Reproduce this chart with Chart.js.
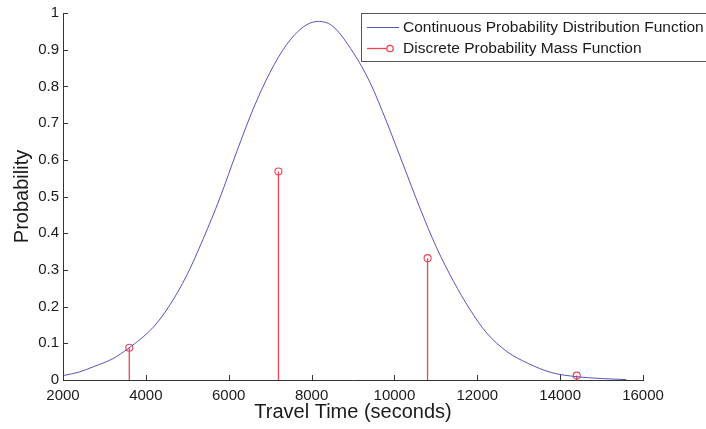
<!DOCTYPE html>
<html>
<head>
<meta charset="utf-8">
<script src="https://cdn.jsdelivr.net/npm/chart.js@4.4.0/dist/chart.umd.min.js"></script>
<style>
  html, body { margin: 0; padding: 0; background: #fff; }
  #wrap { width: 706px; height: 429px; }
</style>
</head>
<body>
<div id="wrap"><canvas id="probChart" width="706" height="429"></canvas></div>
<script>
// ================= Data =================
// continuous curve, travel time in seconds
const pdfX = [2000, 2400, 2731, 3200, 3576, 4180, 4583, 4986, 5386, 5790, 6193, 6593, 6996, 7399,
              7800, 8150, 8500, 9007, 9410, 9813, 10214, 10617, 11020, 11421, 11824, 12227,
              12710, 13230, 13800, 14400, 15000, 15600];
const pdfY = [0.012, 0.022, 0.036, 0.058, 0.086, 0.144, 0.205, 0.285, 0.385, 0.497, 0.622, 0.739, 0.838, 0.914,
              0.962, 0.977, 0.965, 0.892, 0.811, 0.703, 0.586, 0.468, 0.36, 0.27, 0.192, 0.128,
              0.078, 0.045, 0.02, 0.009, 0.004, 0.001];
// discrete mass function (stems)
const pmfX = [3600, 7200, 10800, 14400];
const pmfY = [0.088, 0.568, 0.332, 0.012];

const xTicks = [2000, 4000, 6000, 8000, 10000, 12000, 14000, 16000];
const yTicks = [0, 0.1, 0.2, 0.3, 0.4, 0.5, 0.6, 0.7, 0.8, 0.9, 1];

const BLUE = 'rgba(75,75,190,0.95)';
const RED = '#ee4455';
const FONT = '"Liberation Sans", Arial, Helvetica, sans-serif';

// stems: (x,0) -> (x,y) then a gap
let stemPts = [];
pmfX.forEach((x, i) => {
    stemPts.push({x: x, y: 0});
    stemPts.push({x: x, y: pmfY[i]});
    stemPts.push({x: x, y: null});
});

// ================= Plugins =================
// MATLAB style ticks pointing into the plot
const innerTicks = {
    id: 'innerTicks',
    afterDatasetsDraw(chart) {
        const c = chart.ctx, xs = chart.scales.x, ys = chart.scales.y;
        const a = chart.chartArea;
        c.save();
        c.strokeStyle = '#333';
        c.lineWidth = 1;
        c.beginPath();
        xTicks.forEach(v => {
            const px = Math.round(xs.getPixelForValue(v)) + 0.5;
            c.moveTo(px, a.bottom);
            c.lineTo(px, a.bottom - 5);
        });
        yTicks.forEach(v => {
            const py = Math.round(ys.getPixelForValue(v)) + 0.5;
            c.moveTo(a.left, py);
            c.lineTo(a.left + 5, py);
        });
        c.stroke();
        c.restore();
    }
};

// legend box in the top right corner
const boxLegend = {
    id: 'boxLegend',
    afterDraw(chart) {
        const c = chart.ctx;
        const ds = chart.data.datasets;
        c.save();
        c.fillStyle = '#fff';
        c.fillRect(361, 13, 350, 48);
        c.strokeStyle = '#555';
        c.lineWidth = 1;
        c.strokeRect(361.5, 13.5, 350, 48);

        // row 1: blue line
        c.strokeStyle = BLUE;
        c.beginPath();
        c.moveTo(367, 27.5);
        c.lineTo(399, 27.5);
        c.stroke();
        // row 2: red line + circle
        c.strokeStyle = RED;
        c.lineWidth = 1.3;
        c.beginPath();
        c.moveTo(367, 48.5);
        c.lineTo(390, 48.5);
        c.stroke();
        c.beginPath();
        c.arc(390, 48.5, 3.2, 0, Math.PI * 2);
        c.fillStyle = '#fff';
        c.fill();
        c.stroke();

        c.fillStyle = '#1a1a1a';
        c.font = '15.5px ' + FONT;
        c.textBaseline = 'middle';
        c.fillText(ds[0].label, 403, 28);
        c.fillText(ds[1].label, 403, 49);
        c.restore();
    }
};

// ================= Chart =================
const ctx = document.getElementById('probChart').getContext('2d');
const chart = new Chart(ctx, {
    type: 'line',
    data: {
        datasets: [
            {
                label: 'Continuous Probability Distribution Function',
                data: pdfX.map((x, i) => ({x: x, y: pdfY[i]})),
                borderColor: BLUE,
                borderWidth: 1,
                pointRadius: 0,
                cubicInterpolationMode: 'monotone',
                fill: false
            },
            {
                label: 'Discrete Probability Mass Function',
                data: stemPts,
                borderColor: RED,
                backgroundColor: 'rgba(255,255,255,0)',
                borderWidth: 1.3,
                spanGaps: false,
                pointRadius: c => (c.dataIndex % 3 === 1 ? 3.5 : 0),
                pointBorderWidth: 1.1,
                pointBorderColor: RED,
                pointBackgroundColor: 'rgba(255,255,255,0)',
                tension: 0,
                fill: false
            }
        ]
    },
    options: {
        responsive: false,
        animation: false,
        events: [],
        layout: {padding: {top: 10, right: 63, left: 0, bottom: 0}},
        plugins: {legend: {display: false}, tooltip: {enabled: false}},
        scales: {
            x: {
                type: 'linear',
                min: 2000,
                max: 16000,
                afterFit: s => { s.height = 49; },
                afterBuildTicks: s => { s.ticks = xTicks.map(v => ({value: v})); },
                ticks: {
                    color: '#1a1a1a',
                    font: {family: FONT, size: 15},
                    padding: 7,
                    maxRotation: 0,
                    callback: v => String(v)
                },
                grid: {display: true, drawOnChartArea: false, drawTicks: false},
                border: {display: true, color: '#333', width: 1},
                title: {
                    display: true,
                    text: 'Travel Time (seconds)',
                    color: '#1a1a1a',
                    font: {family: FONT, size: 20},
                    padding: {top: 0, bottom: 5}
                }
            },
            y: {
                type: 'linear',
                min: 0,
                max: 1,
                afterFit: s => { s.width = 63; },
                afterBuildTicks: s => { s.ticks = yTicks.map(v => ({value: v})); },
                ticks: {
                    color: '#1a1a1a',
                    font: {family: FONT, size: 15},
                    padding: 4,
                    callback: v => String(v)
                },
                grid: {display: true, drawOnChartArea: false, drawTicks: false},
                border: {display: true, color: '#333', width: 1},
                title: {
                    display: true,
                    text: 'Probability',
                    color: '#1a1a1a',
                    font: {family: FONT, size: 20},
                    padding: {top: 10, bottom: 0}
                }
            }
        }
    },
    plugins: [innerTicks, boxLegend]
});
</script>
</body>
</html>
